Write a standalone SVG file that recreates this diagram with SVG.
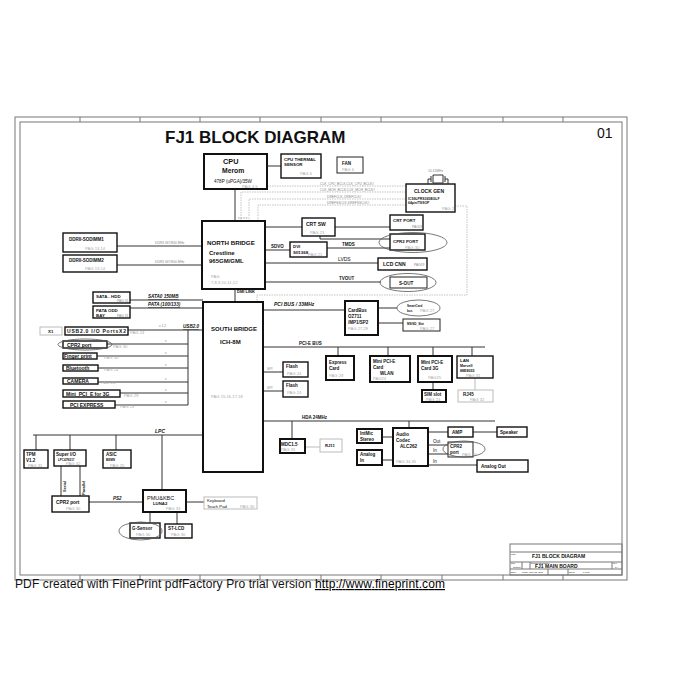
<svg xmlns="http://www.w3.org/2000/svg" width="700" height="700" viewBox="0 0 700 700">
<style>
text{font-family:"Liberation Sans",Arial,sans-serif;fill:#111}
.b{fill:#fff;stroke:#222;stroke-width:1}
.bt{fill:#fff;stroke:#111;stroke-width:2}
.bm{fill:#fff;stroke:#111;stroke-width:1.4}
.bf{fill:#fff;stroke:#bbb;stroke-width:1}
.el{fill:none;stroke:#555;stroke-width:0.8}
.ln{stroke:#333;stroke-width:1;fill:none}
.lf{stroke:#bbb;stroke-width:1;fill:none}
.dl{stroke:#aaa;stroke-width:0.7;fill:none;stroke-dasharray:1.5 1}
.fr{fill:none;stroke:#777;stroke-width:1}
.h{font-weight:bold}
.p{fill:#aaa;font-size:4.2px}
.s{font-size:3.3px;fill:#888}
.i{font-weight:bold;font-style:italic;text-decoration:underline}
</style>
<rect width="700" height="700" fill="#fff"/>
<g id="frame">
<rect class="fr" x="15" y="117" width="612" height="463"/>
<rect class="fr" x="20" y="122" width="602" height="453"/>
<path class="fr" d="M80,117v5M140,117v5M200,117v5M260,117v5M321,117v5M381,117v5M442,117v5M503,117v5M563,117v5M80,575v5M140,575v5M200,575v5M260,575v5M321,575v5M381,575v5M442,575v5M503,575v5M563,575v5"/>
<text x="165" y="143" class="h" font-size="17">FJ1 BLOCK DIAGRAM</text>
<text x="597" y="138" font-size="14">01</text>
</g>
<g id="connectors">
<path class="ln" d="M267,166H281M235,189V221M117,246H202M117,265H202M265,227H302M335,227H390M320,236V239H390M265,250H290M327,248H390M265,263H378M265,282H381M235,289V303"/>
<path class="dl" d="M267,186H406M241,221V192H406M249,221V199H406M258,221V205H406M455,206H467V295H257V303"/>
<path class="ln" d="M130,300H203M130,308H203M128,330H203M188,330V405M107,344H188M97,356H188M98,368H188M98,382H188M120,393H188M115,405H188"/>
<path class="ln" d="M263,310H345M378,308H397M378,323H403M263,347H485M338,347V356M388,347V356M433,347V356M472,347V356M433,382V390M263,372H283M263,391H283"/>
<path class="lf" d="M475,378V390M305,447H320"/>
<path class="ln" d="M263,421H495M292,421V439M409,421V428M382,437H393M382,460H393M428,432H448M473,432H497M428,445H448M428,454H448M428,465H477"/>
<path class="ln" d="M33,435H203M36,435V450M70,435V450M116,435V450M61,466V496M80,466V496M89,502H143M162,435V490M186,502H204M150,512V523M177,512V524"/>
<text x="155" y="244" class="s" fill="#555">DDRII  667/800 MHz</text>
<text x="155" y="263" class="s">DDRII  667/800 MHz</text>
<text x="320" y="185" class="s">CLK_CPU_BCLK,CLK_CPU_BCLK#</text>
<text x="320" y="191" class="s">CLK_MCH_BCLK,CLK_MCH_BCLK#</text>
<text x="327" y="198" class="s">DREFCLK, DREFCLK#</text>
<text x="327" y="204" class="s">DREFSSCLK,DREFSSCLK#</text>
<text x="238" y="219" class="s">x  x  x  x</text>
<text x="271" y="248" class="h" font-size="4.5">SDVO</text>
<text x="342" y="246" class="h" font-size="4.5">TMDS</text>
<text x="338" y="261" font-size="5" fill="#999">LVDS</text>
<text x="339" y="280" class="h" font-size="4.5">TVOUT</text>
<text x="237" y="293" class="h" font-size="4">DMI  LINK</text>
<text x="148" y="298" class="i" font-size="4.6">SATA0 150MB</text>
<text x="148" y="306" class="i" font-size="4.6">PATA  (100/133)</text>
<text x="159" y="327" class="s">x 1,2</text>
<text x="183" y="328" class="i" font-size="4.6">USB2.0</text>
<text x="165" y="342" class="s">x</text>
<text x="165" y="354" class="s">x</text>
<text x="165" y="366" class="s">x</text>
<text x="165" y="380" class="s">x</text>
<text x="165" y="391" class="s">x</text>
<text x="165" y="403" class="s">x</text>
<text x="274" y="306" class="h" font-style="italic" font-size="5">PCI BUS / 33MHz</text>
<text x="299" y="345" class="h" font-size="4.5">PCI-E  BUS</text>
<text x="267" y="370" class="s" font-style="italic">SPI</text>
<text x="267" y="389" class="s" font-style="italic">SPI</text>
<text x="302" y="419" class="h" font-size="4.5">HDA 24MHz</text>
<text x="433" y="443" font-size="4.5" fill="#333">Out</text>
<text x="433" y="452" font-size="4.5" fill="#333">In</text>
<text x="433" y="463" font-size="4.5" fill="#333">In</text>
<text x="155" y="433" class="h" font-style="italic" font-size="5">LPC</text>
<text x="113" y="500" class="h" font-style="italic" font-size="4.5">PS2</text>
<text transform="translate(66,492) rotate(-90)" class="h" font-size="4">Serial</text>
<text transform="translate(85,495) rotate(-90)" class="h" font-size="4">Parallel</text>
</g>
<g id="cpu"><rect class="bt" x="204" y="154" width="63" height="35"/><text x="223" y="164" class="h" font-size="7.3">CPU</text><text x="222" y="173" class="h" font-size="6.8">Merom</text><text x="214" y="183" font-size="4.6">478P  (uPGA)/35W</text><text x="242" y="188" class="p">PAG  4,5</text></g>
<g id="thermal"><rect class="bm" x="281" y="154" width="40" height="24"/><text x="284" y="161" class="h" font-size="4.4">CPU THERMAL</text><text x="284" y="166" class="h" font-size="4.4">SENSOR</text><text x="300" y="175" class="p">PAG  6</text></g>
<g id="fan"><rect class="b" x="337" y="157" width="26" height="16"/><text x="342" y="165" class="h" font-size="4.5">FAN</text><text x="342" y="171" class="p">PAG  6</text></g>
<g id="clockgen"><rect class="bm" x="406" y="184" width="49" height="28"/><path class="ln" stroke-width="0.6" d="M428,184V179H431M431,176V182M433,175h10v8h-10zM445,176V182M445,179H448V184"/><text x="428" y="172" class="s">14.31MHz</text><text x="414" y="193" class="h" font-size="5">CLOCK GEN</text><text x="408" y="200" class="h" font-size="3.4">ICS9LPRS365BGLF</text><text x="408" y="204" class="h" font-size="3.4">64pin/TSSOP</text><text x="442" y="210" class="p">PAG  2</text></g>
<g id="ddr1"><rect class="bm" x="63" y="233" width="54" height="19"/><text x="69" y="241" class="h" font-size="4.5">DDRII-SODIMM1</text><text x="85" y="250" class="p">PAG  13,14</text></g>
<g id="ddr2"><rect class="bm" x="63" y="255" width="54" height="17"/><text x="69" y="262" class="h" font-size="4.5">DDRII-SODIMM2</text><text x="85" y="270" class="p">PAG  13,14</text></g>
<g id="northbridge"><rect class="bt" x="202" y="221" width="63" height="68"/><text x="207" y="245" class="h" font-size="6.2">NORTH BRIDGE</text><text x="209" y="255" class="h" font-size="6">Crestline</text><text x="209" y="263" class="h" font-size="6">965GM/GML</text><text x="211" y="278" class="p">PAG</text><text x="211" y="284" class="p">7,8,9,10,11,12</text></g>
<g id="crtsw"><rect class="bm" x="302" y="218" width="33" height="18"/><text x="306" y="226" class="h" font-size="5">CRT SW</text><text x="310" y="234" class="p">PAG  23</text></g>
<g id="crtport"><rect class="bm" x="390" y="215" width="33" height="15"/><text x="393" y="222" class="h" font-size="4.4">CRT PORT</text><text x="412" y="228" class="s" fill="#bbb">PAG23</text></g>
<g id="cpr2port-nb"><rect class="bm" x="390" y="234" width="35" height="16"/><text x="393" y="243" class="h" font-size="4.4">CPR2 PORT</text><text x="405" y="249" class="p">PAG  30</text><ellipse class="el" cx="413" cy="242.5" rx="34" ry="10"/></g>
<g id="dvi"><rect class="bm" x="290" y="242" width="37" height="15"/><text x="293" y="248" class="h" font-size="4.4">DVI</text><text x="293" y="254" class="h" font-size="4.4">SII1368</text><text x="308" y="256" class="p">PAG  21</text></g>
<g id="lcdcnn"><rect class="bm" x="378" y="258" width="49" height="12"/><text x="383" y="266" class="h" font-size="5">LCD CNN</text><text x="414" y="266" class="s" fill="#bbb">PAG19</text></g>
<g id="sout"><rect class="b" x="390" y="277" width="37" height="11"/><text x="399" y="285" class="h" font-size="4.6">S-OUT</text><ellipse class="el" cx="408" cy="282.5" rx="28" ry="9"/></g>
<g id="sata"><rect class="bm" x="93" y="292" width="37" height="11"/><text x="96" y="298" class="h" font-size="4.4">SATA - HDD</text><text x="117" y="302" class="s" fill="#aaa">PAG 31</text></g>
<g id="pata"><rect class="bm" x="93" y="306" width="37" height="12"/><text x="96" y="312" class="h" font-size="4.4">PATA ODD</text><text x="96" y="317" class="h" font-size="4.4">BAY</text><text x="117" y="317" class="s" fill="#aaa">PAG 31</text></g>
<g id="x1"><rect class="bf" x="40" y="327" width="22" height="8"/><text x="48" y="333" class="h" font-size="4.4">X1</text></g>
<g id="usbports"><rect class="bm" x="65" y="327" width="63" height="8"/><text x="67" y="333" class="h" font-size="5" textLength="59">USB2.0  I/O PortsX2</text><text x="130" y="334" class="p">PAG 24</text></g>
<g id="cpr2-usb"><rect class="bm" x="63" y="341" width="44" height="7"/><text x="67" y="347" class="h" font-size="5">CPR2 port</text><ellipse class="el" cx="85" cy="344.5" rx="27" ry="5.5"/><text x="113" y="348" class="p">PAG 30</text></g>
<g id="finger"><rect class="bm" x="63" y="353" width="34" height="6"/><text x="64" y="358" class="h" font-size="5">Finger print</text><text x="104" y="359" class="p">PAG 30</text></g>
<g id="bluetooth"><rect class="bm" x="63" y="365" width="35" height="6"/><text x="66" y="370" class="h" font-size="5">Bluetooth</text><text x="104" y="371" class="p">PAG 24</text></g>
<g id="camera"><rect class="bm" x="63" y="378" width="35" height="6"/><text x="67" y="383" class="h" font-size="5">CAMERA</text><text x="101" y="384" class="p">PAG 24</text></g>
<g id="minipci3g-usb"><rect class="bm" x="63" y="390" width="57" height="7"/><text x="66" y="396" class="h" font-size="5">Mini_PCI_E for 3G</text><text x="124" y="397" class="p">PAG 29</text></g>
<g id="pciexpress"><rect class="bm" x="63" y="401" width="52" height="7"/><text x="70" y="407" class="h" font-size="5">PCI EXPRESS</text><text x="120" y="408" class="p">PAG 29</text></g>
<g id="southbridge"><rect class="bt" x="203" y="302" width="60" height="170"/><text x="211" y="331" class="h" font-size="6">SOUTH BRIDGE</text><text x="220" y="344" class="h" font-size="6">ICH-8M</text><text x="211" y="398" class="p">PAG  15,16,17,18</text></g>
<g id="cardbus"><rect class="bt" x="345" y="301" width="33" height="34"/><text x="348" y="312" class="h" font-size="4.5">CardBus</text><text x="348" y="318" class="h" font-size="4.5">OZ711</text><text x="348" y="324" class="h" font-size="4.5">/MP1/SP2</text><text x="348" y="330" class="p">PAG 27,28</text></g>
<g id="smartcard"><ellipse class="el" cx="418.5" cy="308" rx="21.5" ry="8"/><text x="407" y="307" class="h" font-size="3">SmartCard</text><text x="407" y="312" class="h" font-size="3">bus</text><text x="420" y="312" class="p">PAG 27</text></g>
<g id="mssd"><rect class="b" x="403" y="319" width="37" height="12"/><text x="407" y="325" class="h" font-size="3">MS/SD_Slot</text><text x="420" y="330" class="p">PAG 27</text></g>
<g id="expresscard"><rect class="bt" x="326" y="356" width="28" height="24"/><text x="329" y="364" class="h" font-size="4.5">Express</text><text x="329" y="370" class="h" font-size="4.5">Card</text><text x="329" y="377" class="p">PAG 29</text></g>
<g id="wlan"><rect class="bt" x="370" y="356" width="40" height="26"/><text x="373" y="363" class="h" font-size="4.5">Mini PCI-E</text><text x="373" y="369" class="h" font-size="4.5">Card</text><text x="380" y="375" class="h" font-size="4.5">WLAN</text><text x="373" y="380" class="p">PAG24</text></g>
<g id="card3g"><rect class="bt" x="418" y="356" width="34" height="26"/><text x="421" y="364" class="h" font-size="4.5">Mini PCI-E</text><text x="421" y="370" class="h" font-size="4.5">Card  3G</text><text x="428" y="379" class="p">PAG25</text></g>
<g id="lan"><rect class="bm" x="457" y="356" width="36" height="22"/><text x="460" y="362" class="h" font-size="4.4">LAN</text><text x="460" y="367" class="h" font-size="3.6">Marvell</text><text x="460" y="372" class="h" font-size="3.6">88E8055</text><text x="466" y="377" class="p">PAG 31</text></g>
<g id="simslot"><rect class="bt" x="422" y="390" width="24" height="12"/><text x="424" y="396" class="h" font-size="4.5">SIM slot</text><text x="426" y="401" class="p">PAG 24</text></g>
<g id="rj45"><rect class="bf" x="458" y="390" width="35" height="12"/><text x="463" y="396" class="h" font-size="4.5">RJ45</text><text x="470" y="401" class="p">PAG 32</text></g>
<g id="flash1"><rect class="bm" x="283" y="362" width="25" height="15"/><text x="286" y="368" class="h" font-size="4.5">Flash</text><text x="287" y="375" class="p">PAG 24</text></g>
<g id="flash2"><rect class="bm" x="283" y="381" width="25" height="16"/><text x="286" y="387" class="h" font-size="4.5">Flash</text><text x="287" y="394" class="p">PAG 24</text></g>
<g id="mdc"><rect class="bt" x="280" y="439" width="25" height="14"/><text x="281" y="446" class="h" font-size="4.5">MDC1.5</text><text x="281" y="451" class="p">PAG 31</text></g>
<g id="rj11"><rect class="bf" x="320" y="439" width="22" height="13"/><text x="325" y="447" class="h" font-size="4.2">RJ11</text></g>
<g id="intmic"><rect class="bt" x="357" y="429" width="25" height="14"/><text x="360" y="435" class="h" font-size="4.5">IntMic</text><text x="360" y="441" class="h" font-size="4.5">Stereo</text></g>
<g id="analogin"><rect class="bt" x="357" y="450" width="25" height="15"/><text x="360" y="456" class="h" font-size="4.5">Analog</text><text x="360" y="462" class="h" font-size="4.5">In</text></g>
<g id="codec"><rect class="bt" x="393" y="428" width="35" height="38"/><text x="396" y="436" class="h" font-size="4.6">Audio</text><text x="396" y="442" class="h" font-size="4.6">Codec</text><text x="400" y="448" class="h" font-size="4.6">ALC262</text><text x="396" y="463" class="p">PAG  34,35</text></g>
<g id="amp"><rect class="bm" x="448" y="427" width="25" height="10"/><text x="452" y="434" class="h" font-size="4.6">AMP</text></g>
<g id="speaker"><rect class="bm" x="497" y="427" width="30" height="10"/><text x="500" y="434" class="h" font-size="4.6">Speaker</text></g>
<g id="cpr2-audio"><rect class="b" x="448" y="442" width="25" height="15"/><text x="450" y="448" class="h" font-size="4.5">CPR2</text><text x="450" y="454" class="h" font-size="4.5">port</text><text x="462" y="456" class="p">PAG 30</text><ellipse class="el" cx="464" cy="449" rx="21" ry="8"/></g>
<g id="analogout"><rect class="bm" x="477" y="460" width="51" height="12"/><text x="481" y="468" class="h" font-size="4.6">Analog Out</text></g>
<g id="tpm"><rect class="bm" x="24" y="450" width="24" height="18"/><text x="26" y="456" class="h" font-size="4.5">TPM</text><text x="26" y="462" class="h" font-size="4.5">V1.2</text><text x="28" y="467" class="p">PAG 31</text></g>
<g id="superio"><rect class="bm" x="54" y="450" width="32" height="16"/><text x="56" y="456" class="h" font-size="4.5">Super I/O</text><text x="58" y="461" class="h" font-size="3">LPC47N217</text><text x="66" y="465" class="p">PAG 32</text></g>
<g id="asic"><rect class="bm" x="103" y="450" width="28" height="18"/><text x="106" y="456" class="h" font-size="4.5">ASIC</text><text x="106" y="461" class="h" font-size="3">BEMN</text><text x="110" y="467" class="p">PAG 25</text></g>
<g id="cpr2-lpc"><rect class="bm" x="52" y="496" width="37" height="16"/><text x="56" y="504" class="h" font-size="4.8">CPR2 port</text><text x="66" y="510" class="p">PAG 30</text></g>
<g id="pmu"><rect class="bt" x="143" y="490" width="43" height="22"/><text x="147" y="500" font-size="5.5">PMU&amp;KBC</text><text x="153" y="505" class="h" font-size="4.3">LUNA2</text><text x="166" y="510" class="p">PAG 33</text></g>
<g id="keyboard"><rect class="bf" x="204" y="497" width="53" height="12"/><text x="207" y="502" font-size="4.2" fill="#444">Keyboard</text><text x="207" y="508" font-size="4.2" fill="#444">Touch Pad</text><text x="240" y="508" class="p">PAG 30</text></g>
<g id="gsensor"><rect class="bm" x="130" y="523" width="30" height="15"/><text x="132" y="530" class="h" font-size="4.5">G-Sensor</text><text x="136" y="536" class="p">PAG 30</text><ellipse class="el" cx="140.5" cy="531" rx="21.5" ry="9"/></g>
<g id="stlcd"><rect class="bm" x="165" y="524" width="27" height="14"/><text x="168" y="530" class="h" font-size="4.5">ST-LCD</text><text x="171" y="536" class="p">PAG 30</text></g>
<g id="titleblock">
<rect class="fr" x="510" y="544" width="112" height="31" stroke="#666"/>
<path class="fr" stroke="#666" d="M510,552H622M510,562H622M510,569H622M522,562V569M530,562V569M612,562V569M548,569V575M568,569V575"/>
<text x="511" y="555" font-size="2.5" fill="#555">Title</text>
<text x="532" y="558" class="h" font-size="5">FJ1 BLOCK DIAGRAM</text>
<text x="511" y="564" font-size="2.2" fill="#555">Size</text>
<text x="531" y="564" font-size="2.2" fill="#555">Document Number</text>
<text x="613" y="564" font-size="2.2" fill="#555">Rev</text>
<text x="513" y="568" font-size="2.2" fill="#555">Custom</text>
<text x="535" y="568" class="h" font-size="5">FJ1 MAIN BOARD</text>
<text x="615" y="568" font-size="2.5" fill="#555">1A</text>
<text x="511" y="573" font-size="2.2" fill="#555">Date:</text>
<text x="522" y="573" font-size="2.2" fill="#555">Friday, June 22, 2007</text>
<text x="569" y="573" font-size="2.2" fill="#555">Sheet</text>
<text x="583" y="573" font-size="2.2" fill="#555">1    of    39</text>
</g>
<g id="footer">
<text x="15" y="588" font-size="12" fill="#000" textLength="430">PDF created with FinePrint pdfFactory Pro trial version <tspan fill="#000" text-decoration="underline">http://www.fineprint.com</tspan></text>
</g>
</svg>
